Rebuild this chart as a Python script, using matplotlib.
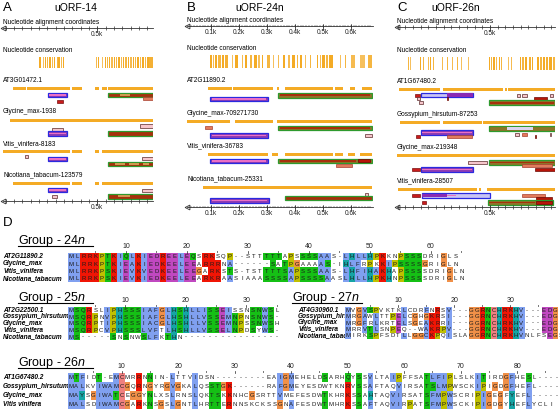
import numpy as np
import matplotlib.pyplot as plt
from matplotlib.patches import Rectangle

plt.rcParams['font.family'] = ['Liberation Sans', 'DejaVu Sans']
plt.rcParams['mathtext.fontset'] = 'custom'
plt.rcParams['mathtext.it'] = 'Liberation Sans:italic'
plt.rcParams['mathtext.rm'] = 'Liberation Sans'

# ---- panel A: uORF-14 ----
A_names = ["AT3G01472.1", "Glycine_max-1938", "Vitis_vinifera-8183", "Nicotiana_tabacum-123579"]
A_cons = [(150, 160, 1), (172, 178, .6), (186, 192, 1), (196, 206, .8), (210, 222, 1), (226, 234, .7),
          (240, 246, 1), (256, 262, .8), (264, 276, 1), (280, 290, .7), (294, 300, 1),
          (492, 498, .7), (504, 510, 1), (530, 536, .6), (544, 552, 1), (556, 566, .8), (572, 578, 1),
          (584, 594, .7), (600, 606, 1), (612, 620, .8), (626, 634, 1), (640, 648, .7), (654, 660, 1),
          (668, 676, .8), (684, 690, 1), (696, 706, .7), (712, 720, 1), (726, 734, .8), (740, 748, 1),
          (754, 760, .7), (768, 778, 1), (784, 790, .8), (796, 808, 1), (812, 834, .9)]
A_exons = [[(-6, 72), (78, 336), (348, 408), (486, 510), (528, 558), (564, 834)],
           [(-24, 834)],
           [(-66, 336), (348, 408), (486, 510), (528, 834)],
           [(-6, 336), (348, 408), (486, 510), (528, 834)]]
A_feats = [[(204, 318, 1, 'uorf'), (210, 312, 1, 'pinkline'), (564, 834, 1, 'cds'), (636, 696, 1, 'tan'),
            (258, 294, 2.4, 'red'), (774, 834, 1.9, 'salmon')],
           [(756, 834, 0.9, 'pink'), (228, 294, 1.6, 'pink'), (204, 318, 2.55, 'uorf'), (210, 312, 2.55, 'pinkline'),
            (564, 834, 2.55, 'cds')],
           [(66, 84, 0.6, 'pink'), (204, 318, 1.2, 'uorf'), (210, 312, 1.2, 'pinkline'), (768, 834, 1.1, 'pink'),
            (564, 834, 2.3, 'cds'), (606, 666, 2.3, 'tan'), (690, 750, 2.3, 'tan'), (776, 810, 2.3, 'tan')],
           [(204, 318, 1, 'uorf'), (210, 312, 1, 'pinkline'), (768, 834, 1.1, 'pink'), (564, 834, 2.4, 'cds'),
            (624, 696, 2.4, 'tan'), (228, 258, 2.5, 'pink')]]

# ---- panel B: uORF-24n ----
B_names = ["AT2G11890.2", "Glycine_max-709271730", "Vitis_vinifera-36783", "Nicotiana_tabacum-25331"]
B_cons = [(96, 102, 1), (106, 112, .7), (115, 122, 1), (126, 134, .8), (138, 146, 1), (150, 162, .9),
          (174, 180, .6), (186, 197, 1), (209, 215, .7), (220, 227, 1), (239, 247, .8), (252, 263, 1),
          (269, 275, .6), (281, 287, 1), (299, 310, .8), (322, 326, .6), (340, 344, .7), (358, 364, 1),
          (376, 382, .7), (390, 400, 1), (406, 412, .8), (418, 424, 1), (435, 441, .6), (453, 459, .8),
          (477, 483, 1), (488, 494, .7), (498, 506, 1), (510, 518, .8), (522, 537, 1), (560, 564, .6),
          (578, 584, .8), (602, 614, .7), (632, 650, .6), (661, 675, .8)]
B_exons = [[(89, 175), (178, 321), (336, 343), (364, 536), (543, 571), (596, 614), (639, 675)],
           [(14, 168), (186, 321), (336, 675)],
           [(89, 303), (318, 339), (364, 536), (543, 571), (589, 614), (632, 675)],
           [(71, 675)]]
B_feats = [[(339, 675, 1.1, 'cds_olive'), (346, 668, 1.1, 'darkline'), (96, 303, 1.9, 'uorf'), (103, 296, 1.9, 'pinkline')],
           [(79, 104, 1, 'salmon'), (339, 675, 1, 'cds_olive'), (346, 668, 1, 'darkline'),
            (96, 303, 2.7, 'uorf'), (103, 296, 2.7, 'pinkline'), (650, 675, 2.7, 'pink')],
           [(96, 303, 1, 'uorf'), (103, 296, 1, 'pinkline'), (339, 675, 1, 'cds_olive'), (346, 620, 1, 'darkline'),
            (625, 668, 1, 'darkred'), (546, 603, 2, 'salmon')],
           [(650, 660, 1.1, 'pink'), (364, 675, 1.9, 'cds'), (96, 307, 2.55, 'uorf'), (103, 300, 2.55, 'pinkline')]]

# ---- panel C: uORF-26n ----
C_names = ["AT1G67480.2", "Gossypium_hirsutum-87253", "Glycine_max-219348", "Vitis_vinifera-28507"]
C_cons = [(-48, -43, .6), (-33, -28, .8), (-18, -13, .6), (4, 9, .8), (17, 22, .7),
          (47, 53, 1), (64, 70, .8), (82, 87, 1), (97, 103, .7), (112, 118, 1), (129, 135, .8), (147, 152, 1),
          (190, 196, .7), (205, 211, 1), (220, 226, .8), (238, 243, 1), (255, 261, .7), (270, 276, 1), (285, 291, .8),
          (313, 319, .6), (335, 341, .7), (357, 363, .6),
          (493, 499, 1), (508, 514, .8), (523, 530, 1), (541, 547, .7), (558, 564, 1), (573, 579, .8),
          (595, 601, .7), (617, 623, .6), (638, 644, .7),
          (695, 705, 1), (710, 720, .8), (726, 739, 1), (756, 768, .9), (772, 782, 1),
          (804, 818, 1), (824, 836, .8), (842, 860, 1), (866, 880, .9), (886, 902, 1), (908, 923, .8)]
C_exons = [[(-91, 176), (195, 585), (598, 611), (618, 923)],
           [(-84, 176), (195, 449), (455, 923)],
           [(-104, 923)],
           [(-97, 416), (429, 442), (481, 923)]]
C_feats = [[(13, 46, 1, 'red'), (52, 390, 0.8, 'uorf_light'), (221, 390, 0.8, 'purple'),
            (676, 696, 0.9, 'pink'), (709, 741, 0.9, 'pink'), (786, 871, 1.7, 'darkred'), (890, 910, 0.9, 'pink'),
            (26, 46, 1.6, 'pink'), (39, 65, 2.4, 'pink'), (221, 230, 1.6, 'darkred'),
            (494, 923, 2.55, 'cds_olive'), (500, 916, 2.55, 'darkline')],
           [(494, 923, 0.9, 'cds_olive'), (611, 780, 0.9, 'lav'), (52, 390, 1.8, 'uorf'), (60, 382, 1.8, 'pinkline'),
            (221, 384, 2.6, 'salmon'), (20, 46, 2.6, 'red'), (663, 689, 2.2, 'pink'), (709, 741, 2.2, 'salmon'),
            (793, 800, 2.7, 'darkred'), (891, 900, 2.2, 'pink')],
           [(358, 481, 1, 'pink'), (494, 923, 1, 'cds_olive'), (500, 916, 1, 'darkline'), (709, 904, 1.65, 'salmon'),
            (52, 390, 2.55, 'uorf'), (60, 382, 2.55, 'pinkline'), (-7, 46, 2.55, 'red'), (793, 923, 2.65, 'darkred')],
           [(-7, 46, 1, 'red'), (59, 500, 1, 'uorf_light'), (59, 221, 1, 'purple'), (221, 280, 1, 'pinkline'),
            (709, 858, 1, 'salmon'), (800, 904, 1.55, 'darkred'), (488, 910, 2.55, 'cds_olive'),
            (494, 790, 2.55, 'darkline'), (800, 904, 2.55, 'darkred'), (59, 85, 2.55, 'red')]]

# ---- panel D: alignments ----
g24_names = ["AT2G11890.2", "Glycine_max", "Vitis_vinifera", "Nicotiana_tabacum"]
g24_seqs = ["MLRRKPTKIQLKIEDREELEQSRKSQP--STTTTTAPSSSSAAS-LHLLHPKKNPSSSDRIGLS",
            "MLRRKPTKIEAKIEDKEELEEARRRNA------SATPGAAAAS-IHLFRPKKIPSSSSGRIGLN",
            "MLRRKPSKIEVKVEDKEELEEGARKSTS-TSTTTTSAPSSSAAS-LHFIHAKHAPSSSSDRIGLN",
            "MLRRKPSKIEVKIEDKEELEEARKRAASIAAASSSSAPSSSSAASLHLLHPKHNPSSSSDRIGLN"]
g25_names = ["AT2G22500.1", "Gossypium_hirsutum", "Glycine_max", "Vitis_vinifera", "Nicotiana_tabacum"]
g25_seqs = ["MSQRSLIPHSSSIAFGLHSHLLISSEISSNSNWSL",
            "MSQRPNVPHSSSIAFGLHSHLLVSSEMNPNSNWS-",
            "MSQRPTIPHSSSIACGLHSHLLVSSEMNPSSNWSH",
            "MSQRPCVPHSSSLVFTLHSHLLVSSELNPDSYWS-",
            "MS-----SNSNWSLFKTHN----------------"]
g26_names = ["AT1G67480.2", "Gossypium_hirsutum", "Glycine_max", "Vitis vinifera"]
g26_seqs = ["MTFIDT-EMCMRRNNIN-LTTVIDSN---------EAIGMEHELDSARHQYSSVLTAIPFFSATLFIPLSLKITIRDGFHESL----",
            "MALKVIWAMCGQRNGYRGVGKALQSSTGK------RAFGMEYESDWTKNRVSSAFTAQVIRSATSLMPWSCKIPIGDGFHEFL----",
            "MAYSGIWATCEGGYNLXSLRNSLQKTSKKNHCGSRTTVMEFESDWTKHRKSSAHTAQVIRSATSFMPWSCRIPIGEGFYEFL-----",
            "MALSDIWAMCGARKNSGSLGNTLHRTTERNNSKCKSSGNAFESDWTMHRKSSAFTAQVIRPATSFMPWSCKIPIGDGYHEFLYCLI"]
g27_names = ["AT4G30960.1", "Gossypium_hirsutum", "Glycine_max", "Vitis_vinifera", "Nicotiana_tabacum"]
g27_seqs = ["MVGVSPVKTKLCDRFNRSV---GGRNCHRKHV---EDG-",
            "MRGAWLTTPELCGHGKRSI---GGRNCHRKHV---EDG-",
            "MRGFRLKRTELSGEAKRRI---GGRNCHRKHV---EDG-",
            "MRRVTLSNPEQ--WAKRPV---GGRNCHRKHV---EDG-",
            "MIRKSPFSDTLLGGCKPQISLAGGRNCHRKHVNLFSEGS"]

W, H = 560, 412
fig = plt.figure(figsize=(5.6, 4.12), dpi=100)
base = fig.add_axes([0, 0, 1, 1])
base.set_xlim(0, W)
base.set_ylim(H, 0)
base.axis('off')

ORANGE = '#f4ab25'
styles = {
    'uorf': dict(fc='#8e3cb4', ec='#2a2ae0', h=4.6, lw=0.9),
    'uorf_light': dict(fc='#c9c4f4', ec='#2a2ae0', h=4.6, lw=0.9),
    'purple': dict(fc='#8a2ab4', ec='none', h=3.2, lw=0),
    'cds': dict(fc='#a8300c', ec='#2e9a2e', h=4.6, lw=0.9),
    'cds_olive': dict(fc='#8e7428', ec='#2e9a2e', h=4.6, lw=0.9),
    'darkline': dict(fc='#a8300c', ec='none', h=1.6, lw=0),
    'tan': dict(fc='#cf9a50', ec='none', h=1.6, lw=0),
    'pinkline': dict(fc='#ea70c4', ec='none', h=1.4, lw=0),
    'lav': dict(fc='#dcd4f2', ec='none', h=2.6, lw=0),
    'red': dict(fc='#c81c1c', ec='#7a1010', h=3.2, lw=0.5),
    'pink': dict(fc='#f6c6cc', ec='#5a2a2a', h=3.2, lw=0.5),
    'salmon': dict(fc='#e27a5c', ec='#a84030', h=3.2, lw=0.5),
    'darkred': dict(fc='#b81408', ec='#6a0a04', h=3.2, lw=0.5),
}


def ruler(ax, y, ticks, labels, minor=()):
    lo, hi = ax.get_xlim()
    ax.plot([lo, hi], [y, y], color='#333333', lw=0.6, clip_on=False)
    ax.plot([lo], [y], marker='<', ms=3.5, mfc='none', mec='#333333', mew=0.6, clip_on=False)
    ax.vlines(ticks, y - 2, y + 2, color='#333333', lw=0.5)
    if len(minor):
        ax.vlines(minor, y - 1.3, y + 1.3, color='#333333', lw=0.35)
    for v, t in labels:
        ax.vlines([v], y - 2, y + 3.5, color='#333333', lw=0.5)
        ax.text(v, y + 6.5, t, ha='center', va='center', fontsize=4.7, color='#222222')


def draw_panel(x0, x1, xlim, letter, title, title_x, y_top, y_bot, cons_y, lab_y0, lab_dy,
               names, cons, exons, feats, ticks, labels, minor=()):
    ax = fig.add_axes([x0 / W, 0, (x1 - x0) / W, 1])
    ax.set_xlim(*xlim)
    ax.set_ylim(H, 0)
    ax.axis('off')
    base.text(x0, 8, letter, fontsize=9.5, va='center', ha='left')
    base.text(title_x, 7.5, title, fontsize=7.5, va='center', ha='center')
    base.text(x0, y_top - 6, "Nucleotide alignment coordinates", fontsize=4.7, va='center')
    base.text(x0, cons_y[0] - 7, "Nucleotide conservation", fontsize=4.7, va='center')
    ruler(ax, y_top, ticks, labels, minor)
    ruler(ax, y_bot, ticks, labels, minor)
    for s, e, lv in cons:
        ax.add_patch(Rectangle((s, cons_y[0]), e - s, cons_y[1] - cons_y[0], fc=ORANGE, ec='none', alpha=0.35 + 0.65 * lv))
    for i, nm in enumerate(names):
        ly = lab_y0 + i * lab_dy
        base.text(x0, ly, nm, fontsize=4.7, va='center')
        yt = ly + 8.3
        for s, e in exons[i]:
            ax.add_patch(Rectangle((s, yt - 1.5), e - s, 3, fc=ORANGE, ec='none'))
        for s, e, lane, kind in feats[i]:
            st = styles[kind]
            yc = yt + 2 + lane * 4.5
            ax.add_patch(Rectangle((s, yc - st['h'] / 2), e - s, st['h'], fc=st['fc'], ec=st['ec'], lw=st['lw']))
    return ax


draw_panel(3, 153, (-66, 834), "A", "uORF-14", 76, 28, 201, (57, 68), 80, 31.7,
           A_names, A_cons, A_exons, A_feats, np.arange(-50, 801, 50), [(500, "0.5k")])
draw_panel(187, 373, (14, 679), "B", "uORF-24n", 260, 26, 207, (55, 68), 80, 33,
           B_names, B_cons, B_exons, B_feats, np.arange(100, 601, 100),
           [(100 * k, "0.%dk" % k) for k in range(1, 7)], minor=np.arange(20, 671, 10))
draw_panel(397, 555, (-104, 923), "C", "uORF-26n", 456, 27, 207, (57, 70), 81, 33.3,
           C_names, C_cons, C_exons, C_feats, np.arange(-100, 901, 50), [(500, "0.5k")])

# ---- alignments ----
HYD = set('WLVIMAFCHP')
CLR = {'B': '#80a0f0', 'R': '#f01505', 'G': '#15c015', 'M': '#c048c0',
       'K': '#f08080', 'O': '#f09048', 'Y': '#c0c000', 'C': '#15a4a4'}


def frac(col, grp):
    return sum(c in grp for c in col) / len(col)


def res_class(ch, col):
    h = frac(col, HYD)
    if ch == 'G':
        return 'O'
    if ch == 'P':
        return 'Y'
    if ch in 'AILMFWV':
        return 'B' if h > 0.6 else None
    if ch == 'C':
        if frac(col, 'C') > 0.85:
            return 'K'
        return 'B' if h > 0.6 else None
    if ch in 'KR':
        return 'R' if frac(col, 'KR') > 0.6 or frac(col, ch) > 0.8 else None
    if ch == 'E':
        return 'M' if frac(col, 'KR') > 0.6 or frac(col, 'QE') > 0.5 or frac(col, 'ED') > 0.5 else None
    if ch == 'D':
        return 'M' if frac(col, 'KR') > 0.6 or frac(col, 'ED') > 0.5 else None
    if ch == 'N':
        return 'G' if frac(col, 'N') > 0.5 else None
    if ch == 'Q':
        return 'G' if frac(col, 'KR') > 0.6 or frac(col, 'QE') > 0.5 else None
    if ch in 'ST':
        return 'G' if h > 0.6 or frac(col, 'TS') > 0.5 else None
    if ch in 'HY':
        return 'C' if h > 0.6 or frac(col, ch) > 0.85 else None
    return None


def draw_group(heading, hx, hy, hw, names, seqs, name_x, x0, y0, col_w, row_h):
    ncol = max(len(s) for s in seqs)
    nrow = len(seqs)
    padded = [s.ljust(ncol, ' ') for s in seqs]
    ax = fig.add_axes([x0 / W, 1 - (y0 + nrow * row_h) / H, ncol * col_w / W, nrow * row_h / H])
    ax.set_xlim(0, ncol)
    ax.set_ylim(nrow, 0)
    ax.axis('off')
    img = np.ones((nrow, ncol, 3))
    for j in range(ncol):
        col = [s[j] for s in padded]
        for i, ch in enumerate(col):
            k = res_class(ch, col)
            if k:
                img[i, j] = plt.matplotlib.colors.to_rgb(CLR[k])
    ax.imshow(img, extent=(0, ncol, nrow, 0), aspect='auto', interpolation='nearest')
    for i, s in enumerate(padded):
        for j, ch in enumerate(s):
            if ch != ' ':
                ax.text(j + 0.5, i + 0.55, ch, ha='center', va='center', fontsize=4.3, color='#1a1a1a')
        base.text(name_x, y0 + (i + 0.5) * row_h, names[i], fontsize=4.7, style='italic',
                  weight='bold', va='center', ha='left')
    for c in range(5, ncol + 1, 5):
        xc = c - 0.5
        if c % 10 == 0:
            ax.plot([xc, xc], [-2.2 / row_h, -0.3 / row_h], color='#222222', lw=0.5, clip_on=False)
            ax.text(xc, -3.3 / row_h, str(c), ha='center', va='bottom', fontsize=5, color='#222222')
        else:
            ax.plot([xc, xc], [-2.0 / row_h, -1.0 / row_h], color='#222222', lw=0.5, clip_on=False)
    base.text(hx, hy, heading, fontsize=9, va='baseline', ha='left')
    base.plot([hx, hx + hw], [hy + 2.2, hy + 2.2], color='black', lw=0.8)


base.text(3, 223, "D", fontsize=9.5, va='center', ha='left')
draw_group(r"Group - 24$n$", 18, 243.5, 75, g24_names, g24_seqs, 3, 68, 253, 6.1, 7.2)
draw_group(r"Group - 25$n$", 18, 300.5, 75, g25_names, g25_seqs, 3, 68, 307, 6.05, 6.6)
draw_group(r"Group - 26$n$", 18, 366, 75, g26_names, g26_seqs, 3, 68, 373, 5.65, 9)
draw_group(r"Group - 27$n$", 292, 300.5, 70, g27_names, g27_seqs, 298, 345, 307, 5.6, 6.3)

fig.savefig('out.png', dpi=100)
